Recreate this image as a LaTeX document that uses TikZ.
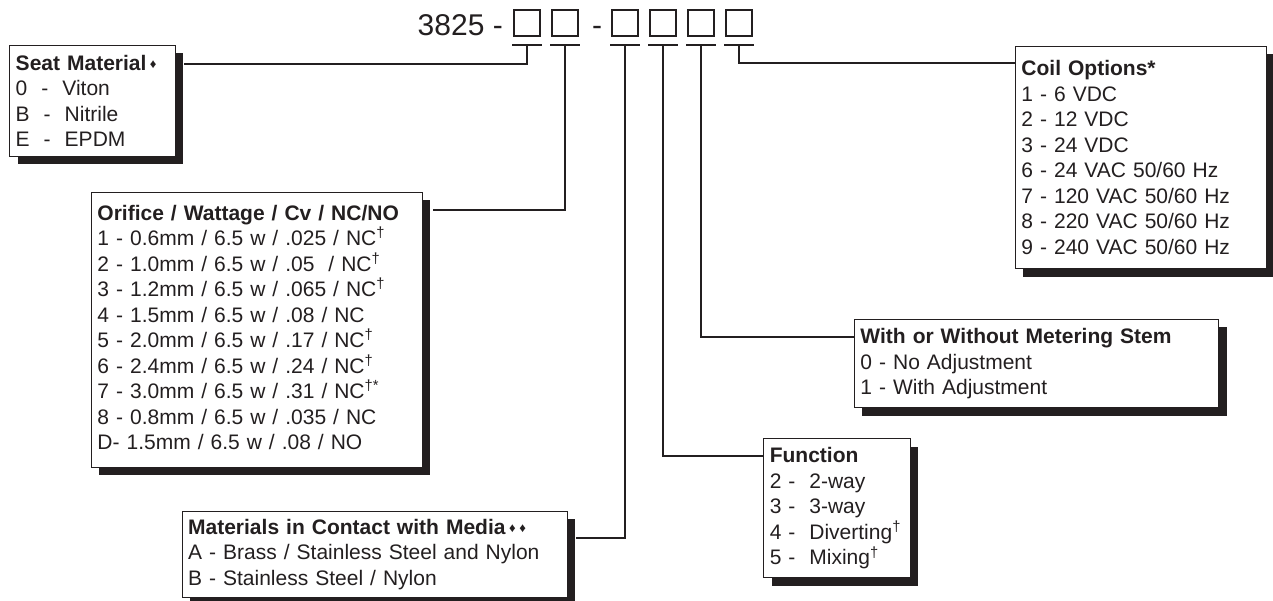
\documentclass[tikz,border=0pt]{standalone}
\usepackage{fontspec}
\setmainfont{Liberation Sans}
\usetikzlibrary{calc,shadows}
\definecolor{ink}{HTML}{231F20}
\tikzset{
  optbox/.style={draw=ink,line width=0.9pt,fill=white,anchor=north west,align=left,
    inner xsep=6pt,inner ysep=0pt,text=ink,font=\fontsize{21}{25.5}\selectfont,
    drop shadow={shadow xshift=8pt,shadow yshift=-8pt,opacity=1,fill=ink}},
  digit/.style={draw=ink,line width=1.8pt,minimum size=26pt,inner sep=0pt},
  link/.style={draw=ink,line width=2pt},
  code/.style={inner sep=0pt,text=ink,font=\fontsize{30}{30}\selectfont}
}
\newcommand{\dg}{\textsuperscript{†}}
\newcommand{\dm}{\,\raisebox{2pt}{\fontsize{13}{13}\selectfont♦}}
\begin{document}
\begin{tikzpicture}[x=1pt,y=-1pt]
\useasboundingbox (0,0) rectangle (1273,601);
\node[code,anchor=base east] (part) at (503,36) {3825 -};
\node[code,anchor=base] (sep) at (597,36) {-};
\foreach \i/\x in {1/527,2/565,3/625,4/663,5/701,6/739}{
  \node[digit] (d\i) at (\x,23) {};
  \draw[link] ($(d\i.south west)+(-1,8)$) -- ($(d\i.south east)+(1,8)$);
  \coordinate (t\i) at ($(d\i.south)+(0,8)$);
}
% option boxes
\node[optbox,text width=153.7pt,minimum height=111pt] (seat) at (9.3,45)
  {\textbf{Seat Material}\dm\\0 \ - \ Viton\\B \ - \ Nitrile\\E \ - \ EPDM};
\node[optbox,text width=318.7pt,minimum height=275pt] (orifice) at (91,191.7)
  {\textbf{Orifice / Wattage / Cv / NC/NO}\\
   1 - 0.6mm / 6.5 w / .025 / NC\dg\\
   2 - 1.0mm / 6.5 w / .05 \ / NC\dg\\
   3 - 1.2mm / 6.5 w / .065 / NC\dg\\
   4 - 1.5mm / 6.5 w / .08 / NC\\
   5 - 2.0mm / 6.5 w / .17 / NC\dg\\
   6 - 2.4mm / 6.5 w / .24 / NC\dg\\
   7 - 3.0mm / 6.5 w / .31 / NC\textsuperscript{†*}\\
   8 - 0.8mm / 6.5 w / .035 / NC\\
   D- 1.5mm / 6.5 w / .08 / NO\rule[-5pt]{0pt}{0pt}};
\node[optbox,text width=373pt,minimum height=86pt] (media) at (181.7,511)
  {\textbf{Materials in Contact with Media}\dm\dm\\
   A - Brass / Stainless Steel and Nylon\\
   B - Stainless Steel / Nylon};
\node[optbox,text width=134.7pt,minimum height=139pt] (func) at (763.3,438.3)
  {\textbf{Function}\\2 - \ 2-way\\3 - \ 3-way\\4 - \ Diverting\dg\\5 - \ Mixing\dg};
\node[optbox,text width=352.3pt,minimum height=88.3pt] (stem) at (854,319)
  {\textbf{With or Without Metering Stem}\\0 - No Adjustment\\1 - With Adjustment};
\node[optbox,text width=238.7pt,minimum height=222.3pt] (coil) at (1015,46)
  {\textbf{Coil Options*}\\1 - 6 VDC\\2 - 12 VDC\\3 - 24 VDC\\6 - 24 VAC 50/60 Hz\\
   7 - 120 VAC 50/60 Hz\\8 - 220 VAC 50/60 Hz\\9 - 240 VAC 50/60 Hz};
% leaders
\draw[link] (t1) |- ($(seat.north east)+(8,19)$);
\draw[link] (t2) |- ($(orifice.north east)+(10,18.5)$);
\draw[link] (t3) |- ($(media.north east)+(8,27)$);
\draw[link] (t4) |- ($(func.north west)+(0,17.7)$);
\draw[link] (t5) |- ($(stem.north west)+(0,18.3)$);
\draw[link] (t6) |- ($(coil.north west)+(0,17.5)$);
\end{tikzpicture}
\end{document}
